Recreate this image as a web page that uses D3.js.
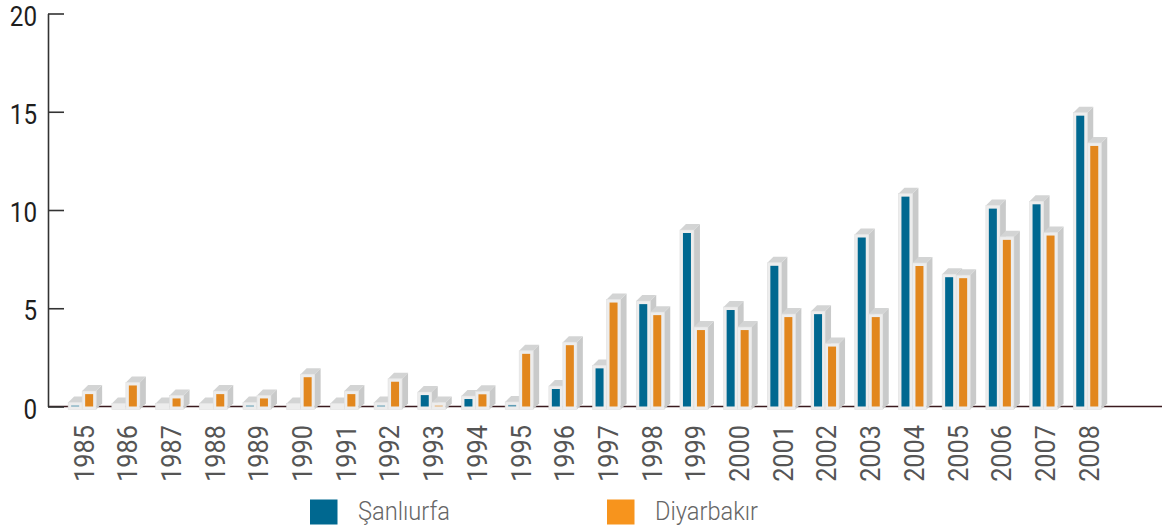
<!DOCTYPE html>
<html><head><meta charset="utf-8">
<script src="https://cdn.jsdelivr.net/npm/d3@7/dist/d3.min.js"></script>
<style>
html,body{margin:0;padding:0;background:#fff;}
svg{display:block;}
</style></head>
<body>
<svg id="chart" width="1162" height="529"></svg>
<script>
const years = ["1985","1986","1987","1988","1989","1990","1991","1992","1993","1994","1995","1996","1997","1998","1999","2000","2001","2002","2003","2004","2005","2006","2007","2008"];
const sanliurfa = [0.05,0,0,0,0.05,0,0,0.05,0.58,0.38,0.08,0.89,1.94,5.21,8.83,4.91,7.16,4.7,8.6,10.68,6.58,10.07,10.29,14.8];
const diyarbakir = [0.63,1.07,0.41,0.63,0.41,1.49,0.63,1.26,0.05,0.62,2.68,3.12,5.29,4.65,3.89,3.89,4.55,3.05,4.55,7.15,6.53,8.48,8.7,13.26];
const yTicks = [0,5,10,15,20];
const seriesNames = ["Şanlıurfa","Diyarbakır"];
const seriesColors = ["#006890","#e2871e"];
const legendColors = ["#006890","#f7941d"];

const FONT = "Roboto,'Open Sans',sans-serif";
const svg = d3.select("#chart");
const axisX = 48;
const y = d3.scaleLinear().domain([0,20]).range([406.5,13.5]);
const x = d3.scaleBand().domain(years).range([60.3,1109.1]).padding(0);
const bw = x.bandwidth();

// baseline
svg.append("line").attr("x1",axisX).attr("x2",1162).attr("y1",y(0)).attr("y2",y(0))
  .attr("stroke","#3b1b1f").attr("stroke-width",1.6);

// y axis
const yAxis = svg.append("g").attr("transform",`translate(${axisX},0)`)
  .call(d3.axisLeft(y).tickValues(yTicks).tickSize(-16).tickSizeOuter(0).tickPadding(11));
yAxis.select(".domain").attr("stroke","#333").attr("stroke-width",1.6);
yAxis.selectAll(".tick line").attr("stroke","#333").attr("stroke-width",1.6);
yAxis.selectAll(".tick text")
  .attr("x",0).attr("dy","0.42em")
  .attr("transform","translate(-11,0) scale(0.88,1)")
  .attr("fill","#1e1e1e").style("font-family",FONT).style("font-weight","400").style("font-size","27.5px");

// bars
const fw = 8, pad = 3, dx = 6, dy = 6;
function drawBar(g, cx, left, v, color){
  const fx = left ? cx - pad - fw : cx + pad; // fill x
  const ox = fx - pad, ow = fw + 2*pad;        // frame
  const top = y(v) - pad, bot = y(0) + pad;
  g.append("path").attr("d",`M${ox+ow},${top} L${ox+ow+dx},${top-dy} L${ox+ow+dx},${bot-dy} L${ox+ow},${bot} Z`)
    .attr("fill","#c9caca");
  g.append("path").attr("d",`M${ox},${top} L${ox+dx},${top-dy} L${ox+ow+dx},${top-dy} L${ox+ow},${top} Z`)
    .attr("fill","#d3d4d4");
  g.append("rect").attr("x",ox).attr("y",top).attr("width",ow).attr("height",bot-top)
    .attr("fill","#ededed").attr("stroke","#e0e0e0").attr("stroke-width",0.6);
  const h = y(0) - y(v);
  if (v > 0) {
    g.append("rect").attr("x",fx).attr("y",y(v)).attr("width",fw).attr("height",Math.max(h,1))
      .attr("fill",color).attr("opacity", h < 2 ? 0.6 : 1);
  }
}
const bars = svg.append("g");
years.forEach((yr,i)=>{
  const cx = x(yr) + bw/2;
  const g = bars.append("g");
  drawBar(g, cx, true, sanliurfa[i], seriesColors[0]);
  drawBar(g, cx, false, diyarbakir[i], seriesColors[1]);
});

// x labels
const xAxis = svg.append("g").attr("transform",`translate(1.5,${y(0)})`)
  .call(d3.axisBottom(x).tickSize(0).tickPadding(0));
xAxis.select(".domain").remove();
xAxis.selectAll(".tick text")
  .attr("transform","translate(0,18.5) rotate(-90) scale(0.92,1)")
  .attr("x",0).attr("y",0).attr("dy","0.36em")
  .attr("text-anchor","end")
  .attr("fill","#555").style("font-family",FONT).style("font-weight","400").style("font-size","27.5px");

// legend
const legend = svg.append("g");
const legX = [310,607];
const legW = [92,103];
seriesNames.forEach((n,i)=>{
  legend.append("rect").attr("x",legX[i]).attr("y",499.5).attr("width",27.5).attr("height",25).attr("fill",legendColors[i]);
  legend.append("text").attr("x",legX[i]+48).attr("y",520).text(n)
    .attr("textLength",legW[i]).attr("lengthAdjust","spacingAndGlyphs")
    .attr("fill","#666").style("font-family",FONT).style("font-weight","300").style("font-size","26px");
});
</script>
</body></html>
